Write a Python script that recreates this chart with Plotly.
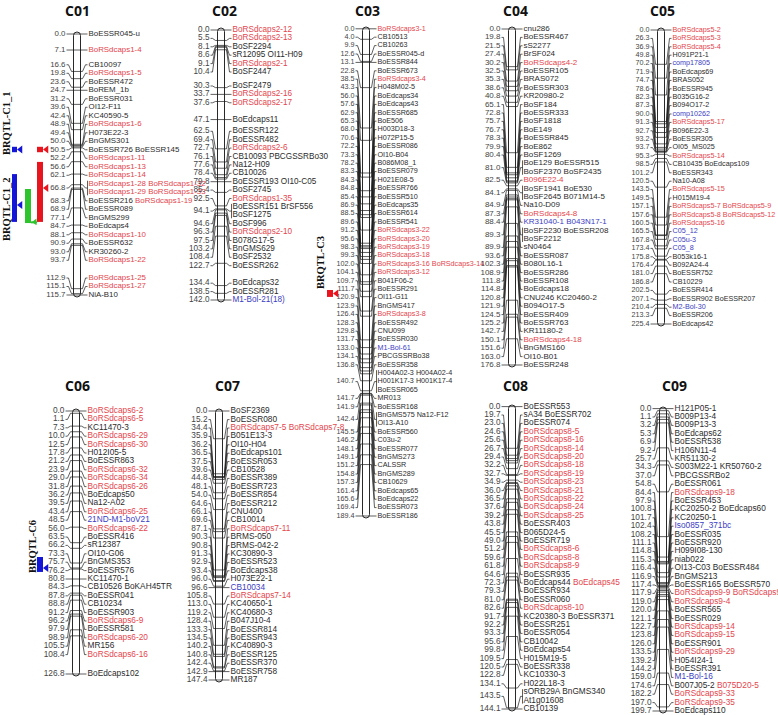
import plotly.graph_objects as go

# ------------------------------------------------------------------ data
chrom_names = ["C01", "C02", "C03", "C04", "C05", "C06", "C07", "C08", "C09"]

c01_pos = [0.0, 7.1, 16.6, 19.8, 23.6, 24.7, 31.2, 39.6, 42.4, 48.9, 49.4, 50.0, 50.5,
           52.2, 56.6, 62.1, 66.8, 68.3, 68.9, 77.1, 84.7, 88.1, 90.9, 93.0, 93.7,
           112.9, 115.1, 115.7]
c01_names = ["BoESSR045-u", "BoRSdcaps1-4", "CB10097", "BoRSdcaps1-5", "BoESSR472",
             "BoREM_1b", "BoESSR031", "OI12-F11", "KC40590-5", "BoRSdcaps1-6",
             "H073E22-3", "BnGMS301", "BoESSR726 BoESSR145", "BoRSdcaps1-11",
             "BoRSdcaps1-13", "BoRSdcaps1-14",
             "BoRSdcaps1-28 BoRSdcaps1-32|BoRSdcaps1-29 BoRSdcaps1-33",
             "BoESSR216 BoRSdcaps1-19", "BoESSR089", "BnGMS299", "BoEdcaps4",
             "BoRSdcaps1-10", "BoESSR632", "KR30260-2", "BoRSdcaps1-22",
             "BoRSdcaps1-25", "BoRSdcaps1-27", "NiA-B10"]

c02_pos = [0.0, 5.5, 8.1, 8.6, 9.1, 10.4, 30.3, 33.7, 37.6, 47.1, 62.5, 69.4, 72.7,
           76.1, 77.6, 78.4, 79.8, 85.4, 92.5, 94.1, 94.6, 96.3, 97.5, 103.2, 108.4,
           122.7, 134.4, 138.5, 142.0]
c02_names = ["BoRSdcaps2-12", "BoRSdcaps2-13", "BoSF2294", "sR12095 OI11-H09",
             "BoRSdcaps2-1", "BoSF2447", "BoSF2479", "BoRSdcaps2-16", "BoRSdcaps2-17",
             "BoEdcaps11", "BoESSR122", "BoESSR482", "BoRSdcaps2-6",
             "CB10093 PBCGSSRBo30", "Na12-H09", "CB10026", "BoESSR193 OI10-C05",
             "BoSF2745", "BoRSdcaps1-35", "BoESSR151 BrSF556|BoSF1275", "BoSF996",
             "BoRSdcaps2-10", "B078G17-5", "BnGMS629", "BoSF2532", "BoESSR262",
             "BoEdcaps32", "BoESSR281", "M1-Bol-21(18)"]

c03_pos = [0.0, 4.0, 9.9, 12.6, 13.1, 22.8, 38.5, 43.3, 56.0, 57.6, 62.9, 65.3, 68.0,
           70.6, 72.2, 73.3, 78.2, 83.3, 84.3, 84.8, 85.4, 86.9, 88.5, 89.6, 91.2,
           95.6, 98.3, 99.3, 102.0, 104.1, 109.7, 111.7, 120.9, 123.9, 126.4, 128.3,
           129.8, 131.7, 133.0, 134.1, 136.8, 140.7, 141.7, 141.9, 142.4, 145.5,
           146.2, 148.1, 149.1, 151.2, 154.8, 157.3, 161.4, 165.6, 169.4, 189.4]
c03_names = ["BoRSdcaps3-1", "CB10513", "CB10263", "BoESSR045-d", "BoESSR844",
             "BoESSR673", "BoRSdcaps3-4", "H048M02-5", "BoEdcaps34", "BoEdcaps43",
             "BoESSR685", "BoE506", "H003D18-3", "H072P15-5", "BoESSR086", "OI10-B04",
             "B086M08_1", "BoESSR079", "H021E08-5", "BoESSR766", "BoESSR510",
             "BoEdcaps35", "BoESSR614", "BoESSR541", "BoRSdcaps3-22", "BoRSdcaps3-20",
             "BoRSdcaps3-19", "BoRSdcaps3-18", "BoRSdcaps3-16 BoRSdcaps3-14",
             "BoRSdcaps3-12", "B041F06-2", "BoESSR291", "OI11-G11", "BnGMS417",
             "BoRSdcaps3-8", "BoESSR492", "CNU099", "BoESSR030", "M1-Bol-61",
             "PBCGSSRBo38", "BoESSR358",
             "H004A02-3 H004A02-4|H001K17-3 H001K17-4|BoESSR065",
             "MR013", "BoESSR168", "BnGMS575 Na12-F12|OI13-A10", "BoESSR560",
             "C03u-2", "BoESSR077", "BnGMS273", "CALSSR", "BnGMS289", "CB10629",
             "BoEdcaps65", "BoEdcaps22", "BoESSR073", "BoESSR186"]

c04_pos = [0.0, 19.8, 21.5, 27.4, 30.2, 32.5, 35.3, 38.6, 40.8, 65.1, 72.8, 75.7,
           76.7, 78.3, 79.9, 80.4, 81.0, 82.5, 84.1, 84.9, 87.3, 88.4, 89.3, 89.9,
           93.6, 102.3, 108.9, 111.8, 114.8, 120.8, 121.9, 124.5, 125.2, 142.7,
           150.1, 151.6, 163.0, 176.8]
c04_names = ["cnu286", "BoESSR467", "sS2277", "BrSF024", "BoRSdcaps4-2", "BoESSR105",
             "BRAS072", "BoESSR303", "KR20980-2", "BoSF184", "BoESSR333", "BoSF1818",
             "BoE149", "BoESSR845", "BoE862", "BoSF1269",
             "BoE129 BoESSR515|BoSF2370 BoSF2435", "B096E22-4",
             "BoSF1941 BoE530|BoSF2645 B071M14-5", "Na10-D09", "BoRSdcaps4-8",
             "KR31040-1 B043N17-1", "BoSF2230 BoESSR208|BoSF2212", "sN0464",
             "BoESSR087", "B080L16-1", "BoESSR286", "BoESSR108", "BoEdcaps18",
             "CNU246 KC20460-2", "B094O17-5", "BoESSR409", "BoESSR763", "KR11180-2",
             "BoRSdcaps4-18", "BnGMS160", "OI10-B01", "BoESSR248"]

c05_pos = [0.0, 26.3, 36.9, 49.8, 70.2, 71.9, 74.7, 78.6, 82.3, 87.3, 90.0, 91.3,
           92.7, 93.2, 93.7, 95.3, 98.5, 101.2, 120.5, 143.5, 149.5, 157.1, 157.6,
           160.5, 165.5, 167.8, 173.4, 175.8, 176.4, 181.0, 186.8, 202.5, 207.1,
           210.4, 213.3, 225.4]
c05_names = ["BoRSdcaps5-2", "BoRSdcaps5-3", "BoRSdcaps5-4", "H091P21-1", "comp17805",
             "BoEdcaps69", "BRAS052", "BoESSR945", "B035G16-2", "B094O17-2",
             "comp10262", "BoRSdcaps5-17", "B096E22-3", "BoESSR305", "OI05_MS025",
             "BoRSdcaps5-14", "CB10435 BoEdcaps109", "BoESSR343", "Na10-A08",
             "BoRSdcaps5-15", "H015M19-4", "BoRSdcaps5-7 BoRSdcaps5-9",
             "BoRSdcaps5-8 BoRSdcaps5-12", "BoRSdcaps5-16", "C05_12", "C05u-3",
             "C05_8", "B053k16-1", "B092A24-4", "BoESSR752", "CB10229", "BoESSR414",
             "BoESSR902 BoESSR207", "M2-Bol-30", "BoESSR206", "BoEdcaps42"]

c06_pos = [0.0, 1.1, 7.3, 10.0, 12.5, 17.8, 21.2, 23.9, 29.0, 31.8, 36.2, 39.5, 43.4,
           48.5, 56.0, 63.5, 66.2, 73.3, 75.7, 76.2, 80.8, 84.3, 87.8, 88.8, 91.2,
           96.2, 97.9, 98.9, 105.5, 108.4, 126.8]
c06_names = ["BoRSdcaps6-2", "BoRSdcaps6-5", "KC11470-3", "BoRSdcaps6-29",
             "BoRSdcaps6-30", "H012I05-5", "BoESSR863", "BoRSdcaps6-32",
             "BoRSdcaps6-34", "BoRSdcaps6-26", "BoEdcaps50", "Na12-A02",
             "BoRSdcaps6-25", "21ND-M1-boV21", "BoRSdcaps6-22", "BoESSR416",
             "sR12387", "OI10-G06", "BnGMS353", "BoESSR576", "KC11470-1",
             "CB10526 BoKAH45TR", "BoESSR041", "CB10234", "BoESSR903",
             "BoRSdcaps6-9", "BoESSR581", "BoRSdcaps6-20", "MR156", "BoRSdcaps6-16",
             "BoEdcaps102"]

c07_pos = [0.0, 15.2, 34.4, 35.9, 36.2, 36.5, 37.5, 39.6, 44.8, 48.1, 54.0, 64.6,
           66.1, 69.6, 87.1, 90.3, 90.8, 91.3, 92.9, 93.4, 96.0, 96.6, 105.8, 113.0,
           119.2, 128.4, 133.3, 134.5, 140.2, 140.8, 142.4, 142.9, 147.4]
c07_names = ["BoSF2369", "BoESSR080", "BoRSdcaps7-5 BoRSdcaps7-8", "B051E13-3",
             "OI10-H04", "BoEdcaps101", "BoESSR053", "CB10528", "BoESSR389",
             "BoESSR723", "BoESSR854", "BoESSR212", "CNU400", "CB10014",
             "BoRSdcaps7-11", "BRMS-050", "BRMS-042-2", "KC30890-3", "BoESSR523",
             "BoEdcaps38", "H073E22-1", "CB10034", "BoRSdcaps7-14", "KC40650-1",
             "KC40680-3", "B047J10-4", "BoESSR814", "BoESSR943", "KC40890-3",
             "BoESSR125", "BoESSR370", "BoESSR758", "MR187"]

c08_pos = [0.0, 19.7, 23.0, 24.6, 25.6, 26.7, 29.4, 32.2, 32.7, 34.9, 36.0, 36.5,
           37.6, 39.2, 43.8, 45.5, 49.0, 51.2, 59.6, 61.8, 64.6, 72.3, 79.3, 81.0,
           82.6, 91.7, 92.2, 93.3, 95.6, 99.8, 109.5, 120.5, 122.8, 134.1, 143.5,
           144.1]
c08_names = ["BoESSR553", "sA34 BoESSR702", "BoESSR074", "BoRSdcaps8-5",
             "BoRSdcaps8-16", "BoRSdcaps8-14", "BoRSdcaps8-20", "BoRSdcaps8-18",
             "BoRSdcaps8-19", "BoRSdcaps8-23", "BoRSdcaps8-21", "BoRSdcaps8-22",
             "BoRSdcaps8-24", "BoRSdcaps8-25", "BoESSR403", "B065D24-5", "BoESSR719",
             "BoRSdcaps8-6", "BoRSdcaps8-8", "BoRSdcaps8-9", "BoESSR935",
             "BoEdcaps44 BoEdcaps45", "BoESSR934", "BoESSR060", "BoRSdcaps8-10",
             "KC20380-3 BoESSR371", "BoESSR251", "BoESSR054", "CB10042",
             "BoEdcaps54", "H015M19-5", "BoESSR338", "KC10330-3", "H022L18-3",
             "sORB29A BnGMS340|At1g01608", "CB10139"]

c09_pos = [0.0, 1.1, 3.2, 5.3, 6.9, 9.2, 25.7, 34.3, 37.0, 54.8, 84.4, 97.9, 100.8,
           101.7, 102.4, 108.2, 111.1, 114.8, 115.3, 116.4, 116.9, 117.4, 117.9,
           119.0, 120.0, 121.1, 122.7, 123.8, 126.0, 133.5, 139.2, 144.2, 159.0,
           174.6, 182.2, 197.0, 199.7]
c09_names = ["H121P05-1", "B009P13-4", "B009P13-3", "BoEdcaps62", "BoESSR538",
             "H106N11-4", "KR51130-2", "S003M22-1 KR50760-2", "PBCGSSRBo2",
             "BoESSR061", "BoRSdcaps9-18", "BoESSR453", "KC20250-2 BoEdcaps60",
             "KC20250-1", "Iso0857_371bc", "BoESSR035", "BoESSR920", "H099I08-130",
             "niab022", "OI13-C03 BoESSR484", "BnGMS213", "BoESSR165 BoESSR570",
             "BoRSdcaps9-9 BoRSdcaps9-10", "BoRSdcaps9-4", "BoESSR565", "BoESSR029",
             "BoRSdcaps9-14", "BoRSdcaps9-15", "BoESSR901", "BoRSdcaps9-29",
             "H054I24-1", "BoESSR391", "M1-Bol-16", "B007J05-2 B075D20-5",
             "BoRSdcaps9-33", "BoRSdcaps9-35", "BoEdcaps110"]

all_pos = [c01_pos, c02_pos, c03_pos, c04_pos, c05_pos, c06_pos, c07_pos, c08_pos, c09_pos]
all_names = [c01_names, c02_names, c03_names, c04_names, c05_names, c06_names,
             c07_names, c08_names, c09_names]

red_extra = ["B096E22-4", "BoEdcaps45", "B075D20-5"]
blue_markers = ["M1-Bol-21(18)", "M1-Bol-61", "KR31040-1", "B043N17-1", "comp17805",
                "comp10262", "C05_12", "C05u-3", "C05_8", "M2-Bol-30",
                "21ND-M1-boV21", "CB10034", "Iso0857_371bc", "M1-Bol-16"]

# QTL intervals (cM)
qtl_label = ["BRQTL-C1_1", "BRQTL-C1_2", "BRQTL-C3", "BRQTL-C6"]
qtl_chrom = [0, 0, 0, 0, 0, 2, 5]
qtl_start = [50.0, 50.0, 62.1, 68.7, 56.7, 101.5, 70.4]
qtl_end = [52.4, 52.4, 83.3, 83.8, 83.3, 104.2, 77.6]
qtl_peak = [51.2, 51.2, 75.8, 83.3, 68.3, 102.9, 75.7]
qtl_kind = ["blue", "red", "blue", "green", "red", "red", "blue"]

# ------------------------------------------------------------------ layout / style
W, H = 778, 715
col_lh = [8.5, 8.4, 8.4, 8.4, 8.4, 8.4, 8.4, 8.4, 8.4]
col_fs = [7.9, 8.2, 7.2, 8.0, 7.2, 8.3, 8.3, 8.3, 8.3]
col_cx = [77, 221, 366, 512, 661, 76, 219, 512, 663]
col_top = [34, 30, 29, 29, 30, 411, 411, 407, 409]
col_bot = [295, 300, 516, 365, 324, 674, 680, 709, 711]
title_x = [77, 224, 367, 515, 662, 77, 227, 515, 674]
title_y = [11, 11, 11, 11, 11, 386, 386, 386, 386]
BAR_HW = 3.5
GAP_L = 8
GAP_R = 8

qtl_x0 = [12, 37, 12, 25, 37, 327, 37]
qtl_w = [5, 6, 5, 6, 6, 6, 6]
qtl_text_x = [6, 6, 320, 32]
qtl_text_y = [123, 209, 263, 547]

RED = "#e5454d"
BLUE = "#3c3cc4"
BLACK = "#2b2b2b"
NUMC = "#444444"
QCOL = {"blue": "#1515d8", "red": "#e8141e", "green": "#2ec42e"}
LABEL_FONT = "Liberation Sans Narrow, Arial Narrow, Liberation Sans, Arial, sans-serif"


def color_for(name):
    if name in blue_markers:
        return BLUE
    if name.startswith("BoRSdcaps") or name in red_extra:
        return RED
    return BLACK


def colorize(line):
    return " ".join("<span style='color:%s'>%s</span>" % (color_for(p), p)
                    for p in line.split(" "))


def spread(ideal, heights, lo, hi):
    groups = []

    def place(g):
        off = 0.0
        acc = 0.0
        for k in g["idx"]:
            acc += ideal[k] - (off + heights[k] / 2)
            off += heights[k]
        t = acc / len(g["idx"])
        t = min(max(t, lo), hi - g["H"])
        g["T"] = t

    for i in range(len(ideal)):
        g = {"idx": [i], "H": heights[i]}
        place(g)
        groups.append(g)
        while len(groups) > 1 and groups[-2]["T"] + groups[-2]["H"] > groups[-1]["T"] + 1e-9:
            b = groups.pop()
            a = groups.pop()
            m = {"idx": a["idx"] + b["idx"], "H": a["H"] + b["H"]}
            place(m)
            groups.append(m)
    centers = [0.0] * len(ideal)
    for g in groups:
        off = g["T"]
        for k in g["idx"]:
            centers[k] = off + heights[k] / 2
            off += heights[k]
    return centers


fig = go.Figure()
shapes = []
annotations = []
layout_axes = {}

for ci in range(9):
    pos = all_pos[ci]
    names = all_names[ci]
    LH = col_lh[ci]
    FS = col_fs[ci]
    top, bot = col_top[ci], col_bot[ci]
    L = max(pos)
    s = (bot - top) / L
    yref = "y" if ci == 0 else "y%d" % (ci + 1)
    axkey = "yaxis" if ci == 0 else "yaxis%d" % (ci + 1)
    ax = dict(range=[(H - top) / s, -top / s], domain=[0, 1], visible=False,
              fixedrange=True, showgrid=False, zeroline=False)
    if ci > 0:
        ax["overlaying"] = "y"
    layout_axes[axkey] = ax

    cx = col_cx[ci]
    bl, br = cx - BAR_HW, cx + BAR_HW
    numR = bl - GAP_L
    nameL = br + GAP_R

    def to_cm(py):
        return (py - top) / s

    ideal = [top + p * s for p in pos]
    nl = [len(n.split("|")) for n in names]
    hts = [n * LH for n in nl]
    centers = spread(ideal, hts, top - LH / 2, bot + LH / 2)

    # chromosome body
    y0 = -2.0 / s
    y1 = L + 2.0 / s
    rv = 3.5 / s
    path = ("M %f,%f Q %f,%f %f,%f Q %f,%f %f,%f L %f,%f Q %f,%f %f,%f Q %f,%f %f,%f Z"
            % (bl, y0 + rv, bl, y0, cx, y0, br, y0, br, y0 + rv,
               br, y1 - rv, br, y1, cx, y1, bl, y1, bl, y1 - rv))
    shapes.append(dict(type="path", path=path, xref="x", yref=yref, layer="below",
                       fillcolor="white", line=dict(color="#111111", width=0.9)))

    xs, ys = [], []
    nx, ny, nt = [], [], []
    mx, my, mt = [], [], []
    for i, p in enumerate(pos):
        c = centers[i]
        yl = to_cm(c)
        xs += [numR + 1, numR + 3, bl - 2, bl, br, br + 2, nameL - 3, nameL - 1, None]
        ys += [yl, yl, p, p, p, p, yl, yl, None]
        if nl[i] > 1:
            xs += [nameL - 1, nameL - 1, None]
            ys += [to_cm(c - nl[i] * LH / 2 + 1.2), to_cm(c + nl[i] * LH / 2 - 1.2), None]
        nx.append(numR)
        ny.append(yl)
        nt.append("%.1f" % p)
        for j, line in enumerate(names[i].split("|")):
            mx.append(nameL)
            my.append(to_cm(c - nl[i] * LH / 2 + LH * (j + 0.5)))
            mt.append(colorize(line))

    fig.add_trace(go.Scatter(x=xs, y=ys, yaxis=yref, mode="lines",
                             line=dict(color="#1a1a1a", width=0.7),
                             hoverinfo="skip", showlegend=False))
    fig.add_trace(go.Scatter(x=nx, y=ny, yaxis=yref, mode="text", text=nt,
                             textposition="middle left",
                             textfont=dict(family=LABEL_FONT, size=FS, color=NUMC),
                             hoverinfo="skip", showlegend=False, cliponaxis=False))
    fig.add_trace(go.Scatter(x=mx, y=my, yaxis=yref, mode="text", text=mt,
                             textposition="middle right",
                             textfont=dict(family=LABEL_FONT, size=FS, color=BLACK),
                             hoverinfo="skip", showlegend=False, cliponaxis=False))

    annotations.append(dict(text="<b>%s</b>" % chrom_names[ci], x=title_x[ci],
                            y=1 - title_y[ci] / H, xref="x", yref="paper",
                            showarrow=False, xanchor="center", yanchor="middle",
                            font=dict(family="Open Sans, Liberation Sans, sans-serif",
                                      size=14, color="#111111")))

# QTL marks
for q in range(len(qtl_chrom)):
    ci = qtl_chrom[q]
    yref = "y" if ci == 0 else "y%d" % (ci + 1)
    col = QCOL[qtl_kind[q]]
    x0 = qtl_x0[q]
    x1 = x0 + qtl_w[q]
    shapes.append(dict(type="rect", xref="x", yref=yref, x0=x0, x1=x1,
                       y0=qtl_start[q], y1=qtl_end[q], fillcolor=col,
                       line=dict(width=0), layer="above"))
    if qtl_kind[q] == "green":
        fig.add_trace(go.Scatter(x=[x1, x1 + 6], y=[qtl_end[q] - 0.3, qtl_end[q] - 0.3],
                                 yaxis=yref, mode="lines",
                                 line=dict(color=col, width=2),
                                 hoverinfo="skip", showlegend=False))
        fig.add_trace(go.Scatter(x=[x1 + 4], y=[qtl_peak[q]], yaxis=yref,
                                 mode="markers",
                                 marker=dict(symbol="triangle-left", size=6, color=col),
                                 hoverinfo="skip", showlegend=False))
    else:
        fig.add_trace(go.Scatter(x=[x1 + 3.5], y=[qtl_peak[q]], yaxis=yref,
                                 mode="markers",
                                 marker=dict(symbol="triangle-left", size=7, color=col),
                                 hoverinfo="skip", showlegend=False))

for k, t in enumerate(qtl_label):
    annotations.append(dict(text="<b>%s</b>" % t, x=qtl_text_x[k],
                            y=1 - qtl_text_y[k] / H, xref="x", yref="paper",
                            textangle=-90, showarrow=False,
                            xanchor="center", yanchor="middle",
                            font=dict(family="Liberation Serif, Times New Roman, serif",
                                      size=10.5, color="#111111")))

fig.update_layout(
    width=W, height=H,
    margin=dict(l=0, r=0, t=0, b=0),
    paper_bgcolor="white", plot_bgcolor="white",
    xaxis=dict(range=[0, W], domain=[0, 1], visible=False, fixedrange=True,
               showgrid=False, zeroline=False),
    shapes=shapes, annotations=annotations, showlegend=False,
    **layout_axes,
)

fig.write_html(
    "out.html",
    config={"displayModeBar": False},
    post_script="document.body.style.margin='0px';document.body.style.padding='0px';"
                "document.documentElement.style.overflow='hidden';",
)
